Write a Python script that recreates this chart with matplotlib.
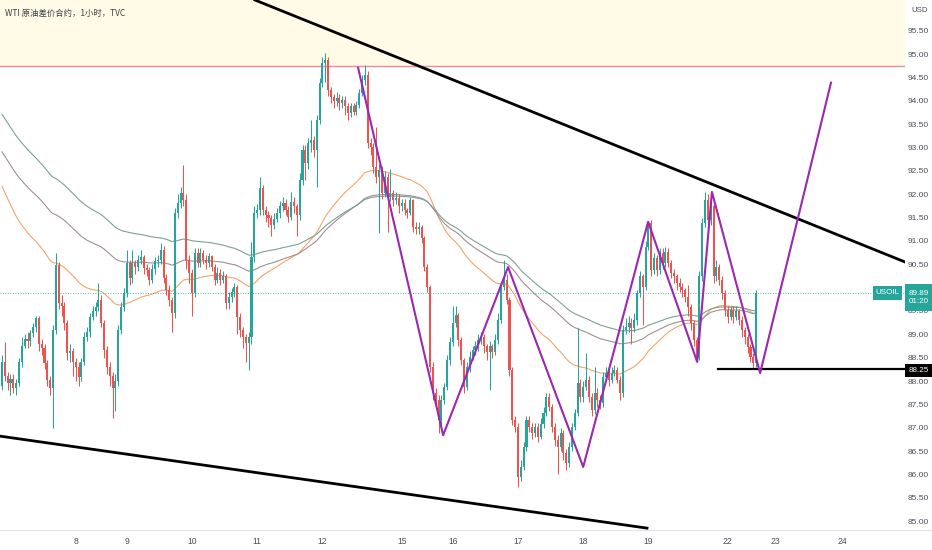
import numpy as np
import matplotlib
matplotlib.use("Agg")
import matplotlib.pyplot as plt
from matplotlib.lines import Line2D

# WTI 1h candles; each bar opens at the previous close
open0 = 87.90
closes = [
    88.40, 88.10, 87.95, 88.05, 87.85, 87.95, 88.40, 88.75, 88.90, 88.85, 89.02, 89.15, 89.35,
    88.80, 88.70, 88.39, 88.02, 87.85, 89.09, 90.49, 89.67, 89.60, 89.24, 88.60, 88.65, 88.40,
    # 8
    88.30, 88.09, 88.40, 88.94, 89.04, 89.37, 89.50, 89.59, 89.74, 89.24, 88.66, 88.30, 88.10,
    87.85, 88.00, 89.09, 89.59, 89.89,
    # 9
    90.52, 90.20, 90.52, 90.45, 90.60, 90.66, 90.42, 90.37, 90.16, 90.40, 90.58, 90.60, 90.81,
    90.20, 89.95, 89.74, 89.45, 91.60, 91.81, 92.03, 91.88, 90.60, 90.31,
    # 10
    89.89, 90.74, 90.53, 90.74, 90.60, 90.53, 90.67, 90.45, 90.16, 90.31, 90.16, 90.24, 89.67,
    89.80, 89.90, 90.02, 89.38, 89.09, 88.95, 88.81, 88.95, 90.66, 91.60,
    # 11
    91.66, 92.13, 91.66, 91.56, 91.49, 91.34, 91.48, 91.59, 91.74, 91.81, 91.66, 91.52, 91.84,
    91.74, 91.55, 92.31, 92.95, 92.67, 93.09, 93.16, 92.95, 93.59, 94.38,
    # 12
    94.81, 94.88, 94.24, 94.09, 93.99, 94.06, 93.95, 94.02, 93.88, 93.74, 93.88, 93.77, 93.91,
    94.17, 94.45, 94.56, 93.09, 93.02, 92.59, 92.38, 92.52, 92.02, 92.38, 91.95, 92.03, 91.88,
    91.92, 91.74,
    # 15
    91.81, 91.66, 91.60, 91.88, 91.30, 91.25, 91.30, 91.06, 90.44, 90.01, 88.30, 87.74, 87.60,
    87.16, 87.59, 87.87, 88.45, 88.84,
    # 16
    89.24, 89.41, 88.88, 88.45, 87.88, 88.31, 88.52, 88.66, 88.74, 88.88, 88.95, 88.74, 88.63,
    88.74, 88.63, 88.88, 89.31, 90.02, 90.16, 89.74, 88.24, 87.16, 87.02,
    # 17
    85.95, 86.16, 86.59, 87.16, 87.02, 86.88, 87.02, 86.81, 87.09, 87.31, 87.66, 87.45, 87.02,
    86.74, 86.59, 86.88, 86.45, 86.24, 86.59, 87.02, 87.31, 87.95, 87.66,
    # 18
    87.88, 88.02, 87.66, 87.38, 87.74, 87.59, 87.52, 88.09, 88.17, 88.02, 88.17, 88.24, 88.02,
    87.74, 89.09, 89.16, 89.24, 89.13, 89.31, 89.88, 90.24, 90.02, 90.88,
    # 19
    91.38, 90.38, 90.63, 90.38, 90.74, 90.52, 90.77, 90.52, 90.31, 90.24, 90.09, 90.02, 89.95,
    89.81, 89.59, 89.24, 88.88, 88.49, 90.24, 91.38, 91.88, 91.45, 91.74, 90.24, 90.45, 90.16,
    89.88, 89.52,
    # 22
    89.38, 89.52, 89.38, 89.49, 89.31, 89.09, 88.95, 88.73, 88.52, 88.38, 89.89,
]
highs = [
    88.55, 88.83, 88.20, 88.15, 88.15, 88.05, 88.50, 88.95, 89.00, 89.05, 89.10, 89.25, 89.40,
    89.40, 88.90, 88.80, 88.45, 88.10, 89.20, 90.74, 90.55, 89.85, 89.70, 89.30, 88.80, 88.70,
    88.50, 88.40, 88.50, 89.05, 89.15, 89.45, 89.60, 89.70, 90.10, 89.85, 89.30, 88.75, 88.40,
    88.20, 88.15, 89.20, 89.70, 90.00,
    90.80, 90.60, 90.80, 90.60, 90.70, 90.80, 90.70, 90.50, 90.45, 90.50, 90.65, 90.70, 90.95,
    90.90, 90.30, 90.05, 89.80, 91.70, 92.00, 92.15, 92.63, 92.00, 90.70,
    90.40, 90.85, 90.85, 90.85, 90.80, 90.70, 90.75, 90.70, 90.50, 90.45, 90.40, 90.35, 90.30,
    89.90, 90.00, 90.10, 90.05, 89.45, 89.15, 89.00, 89.05, 90.98, 91.75,
    91.80, 92.37, 92.20, 91.75, 91.65, 91.55, 91.60, 91.70, 91.85, 91.95, 91.90, 91.75, 92.05,
    91.95, 91.80, 92.45, 93.05, 93.05, 93.20, 93.60, 93.25, 93.70, 94.50,
    94.95, 95.03, 94.95, 94.30, 94.15, 94.20, 94.15, 94.10, 94.10, 93.95, 93.95, 93.95, 94.00,
    94.25, 94.55, 94.77, 94.65, 93.20, 93.10, 93.44, 92.65, 92.60, 92.50, 92.45, 92.55, 92.10,
    92.05, 92.00,
    91.90, 91.90, 91.70, 91.95, 91.90, 91.40, 91.40, 91.35, 91.10, 90.50, 90.05, 88.40, 87.85,
    87.70, 87.70, 87.95, 88.55, 88.95,
    89.60, 89.60, 89.45, 88.95, 88.50, 88.40, 88.65, 88.75, 88.85, 89.00, 89.05, 89.00, 88.80,
    88.85, 88.80, 89.00, 89.45, 90.10, 90.60, 90.30, 89.80, 88.30, 87.25,
    87.10, 86.30, 86.70, 87.25, 87.25, 87.10, 87.10, 87.10, 87.20, 87.45, 87.75, 87.75, 87.50,
    87.10, 86.85, 87.00, 86.95, 86.55, 86.70, 87.10, 87.40, 89.13, 88.05,
    88.00, 88.60, 88.10, 87.75, 88.30, 87.85, 87.70, 88.20, 88.30, 88.25, 88.30, 88.35, 88.30,
    88.10, 89.20, 89.35, 89.40, 89.35, 89.45, 89.95, 90.35, 90.30, 91.00,
    91.42, 91.45, 90.75, 90.70, 90.85, 90.85, 90.88, 90.85, 90.60, 90.40, 90.30, 90.20, 90.10,
    90.00, 90.05, 89.65, 89.30, 88.95, 90.35, 91.50, 92.05, 92.00, 91.85, 91.80, 90.60, 90.50,
    90.25, 89.95,
    89.60, 89.60, 89.60, 89.60, 89.55, 89.40, 89.15, 89.00, 88.80, 88.60, 89.95,
]
lows = [
    87.80, 88.00, 87.80, 87.70, 87.75, 87.70, 87.90, 88.30, 88.70, 88.70, 88.75, 88.95, 89.05,
    88.65, 88.55, 88.25, 87.90, 87.70, 87.00, 89.00, 89.55, 89.40, 89.10, 88.45, 88.40, 88.10,
    88.00, 87.90, 88.00, 88.35, 88.85, 88.95, 89.30, 89.40, 89.50, 89.15, 88.50, 88.15, 87.90,
    87.20, 87.35, 87.90, 89.00, 89.50,
    89.80, 90.05, 90.10, 90.30, 90.35, 90.50, 90.30, 90.25, 90.05, 90.10, 90.30, 90.45, 90.50,
    90.10, 89.85, 89.60, 89.05, 89.35, 91.50, 91.70, 91.75, 90.40, 90.10,
    89.40, 89.80, 90.45, 90.45, 90.50, 90.40, 90.45, 90.35, 90.05, 90.10, 90.05, 90.10, 89.55,
    89.55, 89.70, 89.80, 89.00, 88.95, 88.70, 88.40, 88.24, 88.80, 90.55,
    91.50, 91.55, 91.55, 91.40, 91.30, 91.10, 91.25, 91.40, 91.50, 91.65, 91.55, 91.40, 91.45,
    91.60, 91.10, 91.45, 92.20, 92.30, 92.55, 92.90, 92.80, 92.16, 93.50,
    94.30, 94.40, 94.10, 93.95, 93.85, 93.90, 93.80, 93.85, 93.70, 93.60, 93.65, 93.70, 93.70,
    93.85, 94.10, 94.35, 93.00, 92.85, 92.45, 92.25, 91.17, 91.90, 91.95, 91.20, 91.85, 91.75,
    91.80, 91.60,
    91.65, 91.55, 91.50, 91.55, 91.20, 91.15, 91.15, 90.95, 90.35, 89.90, 88.20, 87.60, 87.45,
    86.88, 87.05, 87.50, 87.80, 88.35,
    88.75, 89.15, 88.75, 88.35, 87.75, 87.80, 88.20, 88.45, 88.55, 88.65, 88.80, 88.60, 88.45,
    87.80, 88.50, 88.55, 88.80, 89.25, 89.95, 89.65, 88.10, 87.05, 86.90,
    85.73, 85.85, 86.10, 86.50, 86.90, 86.75, 86.80, 86.70, 86.75, 87.00, 87.25, 87.35, 86.90,
    86.60, 86.00, 86.50, 86.30, 86.10, 86.15, 86.50, 86.95, 87.25, 87.55,
    87.55, 87.80, 87.55, 87.25, 87.30, 87.45, 87.40, 87.45, 88.00, 87.90, 87.95, 88.10, 87.95,
    87.60, 87.65, 89.00, 89.05, 88.80, 89.05, 89.20, 89.80, 89.20, 89.95,
    90.80, 90.25, 90.30, 90.25, 90.30, 90.40, 90.45, 90.45, 90.20, 90.10, 89.95, 89.90, 89.80,
    89.70, 89.40, 89.10, 88.75, 88.40, 88.45, 90.15, 91.30, 91.30, 91.35, 90.10, 90.15, 90.05,
    89.75, 89.40,
    89.25, 89.30, 89.25, 89.30, 89.20, 88.95, 88.80, 88.60, 88.40, 88.25, 88.30,
]

# bars per day (first block = tail of previous week)
day_bars = [26, 18, 23, 23, 23, 28, 18, 23, 23, 23, 28, 11]
day_names = ['8', '9', '10', '11', '12', '15', '16', '17', '18', '19', '22']
future_names = ['23', '24']
future_pos = [272.7, 296.6]

# moving averages (seeded with their value at the left edge)
ma_periods = [60, 100, 120]
ma_seeds = [92.3, 93.0, 93.8]
ma_colors = ['#f4a46a', '#a0918f', '#7fa098']

# drawings
zig_x = [125.6, 155.6, 178.5, 205.0, 227.9, 245.2, 250.4, 267.4, 292.4]
zig_y = [94.71, 86.84, 90.44, 86.16, 91.41, 88.41, 92.05, 88.17, 94.39]
upper_x = [89.2, 318.5]
upper_y = [96.16, 90.55]
lower_x = [-0.7, 227.5]
lower_y = [86.82, 84.85]
support_start = 252.6
support = 88.25
resist = 94.75
last_price = 89.89

GREEN = '#26a69a'
RED = '#ef5350'
W, H = 932, 550

fig = plt.figure(figsize=(W / 100, H / 100), dpi=100)
ax = fig.add_axes([0, 20 / H, 905 / W, 530 / H])
ax.set_xlim(-0.7, 318.5)
ax.set_ylim(84.81, 96.16)

# zone above resistance
ax.axhspan(resist, 97, color='#fffbe6', zorder=0, lw=0)
ax.axhline(resist, color='#f08a93', lw=1.0, zorder=1)

c = np.array(closes)
o = np.r_[open0, c[:-1]]
x = np.arange(len(c))
cols = np.where(c >= o, GREEN, RED)

# moving averages
for n, seed, col in zip(ma_periods, ma_seeds, ma_colors):
    a = 2.0 / (n + 1)
    e = seed
    vals = []
    for v in c:
        e = a * v + (1 - a) * e
        vals.append(e)
    ax.plot(x, vals, color=col, lw=0.8, zorder=2)

ax.vlines(x, lows, highs, colors=cols, lw=0.75, zorder=3)
ax.bar(x, np.maximum(np.abs(c - o), 0.02), bottom=np.minimum(o, c), width=0.72,
       color=cols, lw=0, zorder=4)

# last price dotted line
ax.axhline(last_price, color=GREEN, lw=0.6, ls=(0, (1, 2)), zorder=2)

# trend lines and pattern
ax.plot(upper_x, upper_y, color='black', lw=2.0, zorder=5)
ax.plot(lower_x, lower_y, color='black', lw=2.0, zorder=5)
ax.plot([support_start, 400], [support, support], color='black', lw=1.6, zorder=5)
ax.plot(zig_x, zig_y, color='#9c27b0', lw=1.5, zorder=6)

for s in ax.spines.values():
    s.set_visible(False)

lab_font = ['Liberation Sans', 'DejaVu Sans']
ax.yaxis.tick_right()
yt = np.arange(85.0, 95.51, 0.5)
ax.set_yticks(yt)
ax.set_yticklabels(['%.2f' % v for v in yt], fontsize=6, color='#4a4f5a', family=lab_font)
ax.tick_params(axis='y', length=0, pad=2)

starts = np.cumsum([0] + day_bars[:-1])[1:]
ax.set_xticks(list(starts) + future_pos)
ax.set_xticklabels(day_names + future_names, fontsize=6.2, color='#4a4f5a', family=lab_font)
ax.tick_params(axis='x', length=0, pad=5)

fig.add_artist(Line2D([0, 1], [20 / H, 20 / H], color='#e0e3eb', lw=0.8))

# price labels on the scale
def tag(xpx, ypx, wpx, hpx, color, text, fs=5.8):
    r = plt.Rectangle((xpx / W, 1 - (ypx + hpx) / H), wpx / W, hpx / H,
                      transform=fig.transFigure, color=color, zorder=10, lw=0)
    fig.add_artist(r)
    fig.text((xpx + wpx / 2) / W, 1 - (ypx + hpx / 2) / H, text, color='white',
             fontsize=fs, ha='center', va='center', family=lab_font, zorder=11,
             linespacing=1.25)

tag(873, 286, 29, 14, GREEN, 'USOIL')
tag(905, 284, 27, 27, GREEN, '%.2f\n01:20' % last_price)
tag(905, 364, 27, 13, 'black', '%.2f' % support)

fig.text(911 / W, 1 - 10 / H, 'USD', fontsize=5.6, color='#4a4f5a', va='center',
         family=lab_font)
fig.text(5 / W, 1 - 13 / H, 'WTI 原油差价合约，1小时，TVC', fontsize=6, color='#3a3e48',
         va='center', family=['Noto Sans CJK SC', 'DejaVu Sans'])

fig.savefig('out.png', dpi=100)
